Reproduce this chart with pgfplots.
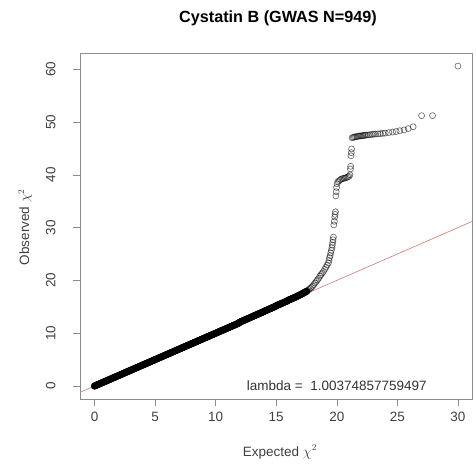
\documentclass[border=0pt]{standalone}
\usepackage{fontspec}
\setmainfont{Liberation Sans}
\usepackage{pgfplots}
\pgfplotsset{compat=1.18}
\definecolor{abl}{RGB}{205,120,120}
\begin{document}
\begin{tikzpicture}[x=1pt,y=1pt]
\useasboundingbox (0,0) rectangle (476,470);
\begin{axis}[
  at={(80pt,71pt)}, anchor=south west,
  scale only axis, width=392pt, height=346pt,
  xmin=-1.2, xmax=31.16, ymin=-2.46, ymax=63.07,
  axis line style={black!45, line width=0.5pt},
  xtick={0,5,...,30}, ytick={0,10,...,60},
  tick align=outside, major tick length=7pt, tick pos=left,
  tick style={black!45, line width=0.5pt},
  /pgf/number format/assume math mode=true,
  ticklabel style={font=\fontsize{13.5}{16}\selectfont, text=black!75},
  yticklabel style={rotate=90, anchor=south},
  yticklabel shift=14pt, xticklabel shift=3pt,
  xlabel={Expected $\chi^2$}, ylabel={Observed $\chi^2$},
  xlabel style={at={(axis description cs:0.51,-0.153)}, anchor=center, font=\fontsize{13.5}{16}\selectfont, text=black!75},
  ylabel style={at={(axis description cs:-0.140,0.497)}, anchor=center, rotate=0, font=\fontsize{13.5}{16}\selectfont, text=black!75},
  title={Cystatin B (GWAS N=949)},
  title style={font=\bfseries\fontsize{16.2}{19}\selectfont, at={(axis description cs:0.505,1.083)}, anchor=center},
]
% dense part of the QQ plot
\addplot[only marks, mark=*, mark size=3.4pt, mark options={black, fill=black, line width=0.5pt}] coordinates {
(0,0)(0.1,0.1)(0.2,0.2)(0.3,0.3)(0.4,0.4)(0.5,0.5)(0.6,0.6)(0.7,0.7)(0.8,0.8)(0.9,0.9)
(1,1)(1.1,1.1)(1.2,1.2)(1.3,1.3)(1.4,1.4)(1.5,1.5)(1.6,1.6)(1.7,1.7)(1.8,1.8)(1.9,1.9)
(2,2)(2.1,2.1)(2.2,2.2)(2.3,2.3)(2.4,2.4)(2.5,2.5)(2.6,2.6)(2.7,2.7)(2.8,2.8)(2.9,2.9)
(3,3)(3.1,3.1)(3.2,3.2)(3.3,3.3)(3.4,3.4)(3.5,3.5)(3.6,3.6)(3.7,3.7)(3.8,3.8)(3.9,3.9)
(4,4)(4.1,4.1)(4.2,4.2)(4.3,4.3)(4.4,4.4)(4.5,4.5)(4.6,4.6)(4.7,4.7)(4.8,4.8)(4.9,4.9)
(5,5)(5.1,5.1)(5.2,5.2)(5.3,5.3)(5.4,5.4)(5.5,5.5)(5.6,5.6)(5.7,5.7)(5.8,5.8)(5.9,5.9)
(6,6)(6.1,6.1)(6.2,6.2)(6.3,6.3)(6.4,6.4)(6.5,6.5)(6.6,6.6)(6.7,6.7)(6.8,6.8)(6.9,6.9)
(7,7)(7.1,7.1)(7.2,7.2)(7.3,7.3)(7.4,7.4)(7.5,7.5)(7.6,7.6)(7.7,7.7)(7.8,7.8)(7.9,7.9)
(8,8)(8.1,8.1)(8.2,8.2)(8.3,8.3)(8.4,8.4)(8.5,8.5)(8.6,8.6)(8.7,8.7)(8.8,8.8)(8.9,8.9)
(9,9)(9.1,9.1)(9.2,9.2)(9.3,9.3)(9.4,9.4)(9.5,9.5)(9.6,9.6)(9.7,9.7)(9.8,9.8)(9.9,9.9)
(10,10)(10.1,10.1)(10.2,10.2)(10.3,10.3)(10.4,10.4)(10.5,10.5)(10.6,10.6)(10.7,10.7)(10.8,10.8)(10.9,10.9)
(11,11)(11.1,11.1)(11.2,11.2)(11.3,11.3)(11.4,11.4)(11.5,11.5)(11.6,11.6)(11.7,11.7)(11.8,11.8)(11.9,11.9)
(12,12.1)(12.1,12.2)(12.2,12.3)(12.3,12.4)(12.4,12.5)(12.5,12.6)(12.6,12.7)(12.7,12.8)(12.8,12.9)(12.9,13.0)
(13,13.12)(13.1,13.22)(13.2,13.32)(13.3,13.42)(13.4,13.52)(13.5,13.62)(13.6,13.72)(13.7,13.82)(13.8,13.92)(13.9,14.02)
(14,14.15)(14.1,14.25)(14.2,14.35)(14.3,14.45)(14.4,14.55)(14.5,14.65)(14.6,14.75)(14.7,14.85)(14.8,14.95)(14.9,15.05)
(15,15.2)(15.1,15.3)(15.2,15.4)(15.3,15.5)(15.4,15.6)(15.5,15.7)(15.6,15.8)(15.7,15.9)(15.8,16.0)(15.9,16.1)
(16,16.25)(16.1,16.35)(16.2,16.45)(16.3,16.55)(16.4,16.65)(16.5,16.75)(16.6,16.85)(16.7,16.95)(16.8,17.08)(16.9,17.2)
(17,17.3)(17.1,17.42)(17.2,17.55)(17.3,17.68)(17.4,17.8)(17.5,17.92)
};
% sparse tail
\addplot[only marks, mark=o, mark size=3pt, mark options={black, line width=0.7pt, draw opacity=0.55}] coordinates {
(17.6,18.1)(17.7,18.3)(17.8,18.5)(17.9,18.7)(18.0,18.9)(18.1,19.2)(18.2,19.5)(18.3,19.8)(18.4,20.1)(18.5,20.4)
(18.6,20.8)(18.7,21.1)(18.8,21.4)(18.9,21.7)(19.0,22.1)(19.1,22.5)(19.2,22.9)(19.3,23.3)(19.35,23.8)(19.4,24.3)
(19.45,24.7)(19.5,25.2)(19.55,25.7)(19.6,26.2)(19.63,26.7)(19.66,27.2)(19.69,27.7)(19.72,28.2)(19.75,30.5)(19.8,31.2)
(19.83,32.0)(19.86,32.5)(19.89,33.0)(19.92,36.0)(19.95,36.8)(19.98,37.6)(20.02,38.3)(20.1,38.7)(20.2,38.9)(20.3,39.1)
(20.4,39.2)(20.5,39.3)(20.6,39.35)(20.7,39.4)(20.8,39.5)(20.9,39.6)(21.0,39.7)(21.08,40.0)(21.12,41.1)(21.14,41.6)
(21.17,43.6)(21.2,44.2)(21.22,44.9)(21.26,47.0)(21.35,47.1)(21.45,47.15)(21.55,47.2)(21.65,47.25)(21.75,47.3)(21.85,47.33)
(21.95,47.36)(22.05,47.4)(22.15,47.43)(22.25,47.46)(22.35,47.5)(22.45,47.52)(22.6,47.55)(22.75,47.6)(22.9,47.65)(23.05,47.7)
(23.2,47.72)(23.4,47.75)(23.6,47.8)(23.8,47.85)(24.0,47.9)(24.3,48.0)(24.6,48.1)(24.9,48.2)(25.2,48.35)(25.55,48.5)
(25.9,48.75)(26.3,49.1)(27.0,51.2)(27.9,51.2)(30.0,60.6)
};
% reference line y = x
\addplot[abl, line width=0.6pt] coordinates {(-5,-5) (40,40)};
\node[font=\fontsize{13.5}{16}\selectfont, text=black!80] at (axis cs:20,0) {lambda =\ \ 1.00374857759497};
\end{axis}
\end{tikzpicture}
\end{document}
